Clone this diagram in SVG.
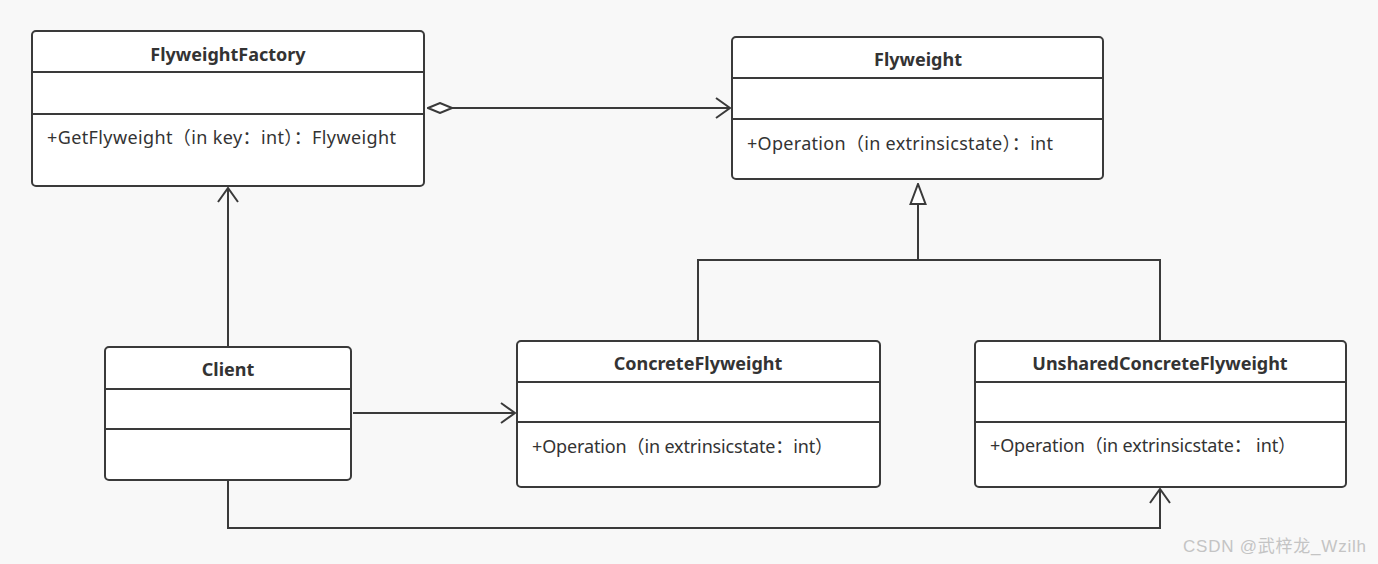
<svg xmlns="http://www.w3.org/2000/svg" width="1378" height="564" viewBox="0 0 1378 564">
<defs>
<style>
.box{fill:#ffffff;stroke:#3a3a3a;stroke-width:2}
.div{stroke:#3a3a3a;stroke-width:2}
.title{font-family:"Noto Sans","Noto Sans CJK SC",sans-serif;font-weight:bold;font-size:18px;fill:#333333;text-anchor:middle}
.op{font-family:"Noto Sans","Noto Sans CJK SC",sans-serif;font-size:18px;fill:#333333}
.ln{fill:none;stroke:#3a3a3a;stroke-width:2}
.wm{font-family:"Liberation Sans","Noto Sans CJK SC",sans-serif;font-size:17px;fill:#c4c4c4}
</style>
<marker id="open" viewBox="0 0 16 22" refX="15" refY="11" markerWidth="16" markerHeight="22" markerUnits="userSpaceOnUse" orient="auto">
<path d="M1,1 L15,11 L1,21" fill="none" stroke="#3a3a3a" stroke-width="2"/>
</marker>
<marker id="tri" viewBox="0 0 22 18" refX="21" refY="9" markerWidth="22" markerHeight="18" markerUnits="userSpaceOnUse" orient="auto">
<path d="M1,1.5 L21,9 L1,16.5 Z" fill="#ffffff" stroke="#3a3a3a" stroke-width="2"/>
</marker>
<marker id="dia" viewBox="0 0 26 12" refX="1" refY="6" markerWidth="26" markerHeight="12" markerUnits="userSpaceOnUse" orient="auto">
<path d="M1,6 L13,1 L25,6 L13,11 Z" fill="#ffffff" stroke="#3a3a3a" stroke-width="2"/>
</marker>
</defs>
<rect width="1378" height="564" fill="#f8f8f8"/>
<g id="connectors">
<line class="ln" x1="428" y1="108" x2="730" y2="108" marker-start="url(#dia)" marker-end="url(#open)"/>
<line class="ln" x1="228" y1="347" x2="228" y2="188" marker-end="url(#open)"/>
<line class="ln" x1="353" y1="413" x2="515" y2="413" marker-end="url(#open)"/>
<polyline class="ln" points="228,480 228,528 1160,528 1160,489" marker-end="url(#open)"/>
<polyline class="ln" points="698,341 698,260 1160,260 1160,341"/>
<line class="ln" x1="918" y1="260" x2="918" y2="184" marker-end="url(#tri)"/>
</g>
<g id="FlyweightFactory">
<rect class="box" x="32" y="31" width="392" height="155" rx="4"/>
<line class="div" x1="32" y1="72" x2="424" y2="72"/>
<line class="div" x1="32" y1="114" x2="424" y2="114"/>
<text class="title" x="228" y="61">FlyweightFactory</text>
<text class="op" x="47" y="144" textLength="349" lengthAdjust="spacing">+GetFlyweight（in key：int）：Flyweight</text>
</g>
<g id="Flyweight">
<rect class="box" x="732" y="37" width="371" height="142" rx="4"/>
<line class="div" x1="732" y1="78" x2="1103" y2="78"/>
<line class="div" x1="732" y1="119" x2="1103" y2="119"/>
<text class="title" x="918" y="66">Flyweight</text>
<text class="op" x="747" y="150" textLength="306" lengthAdjust="spacing">+Operation（in extrinsicstate）：int</text>
</g>
<g id="Client">
<rect class="box" x="105" y="347" width="246" height="133" rx="4"/>
<line class="div" x1="105" y1="389" x2="351" y2="389"/>
<line class="div" x1="105" y1="429" x2="351" y2="429"/>
<text class="title" x="228" y="376">Client</text>
</g>
<g id="ConcreteFlyweight">
<rect class="box" x="517" y="341" width="363" height="146" rx="4"/>
<line class="div" x1="517" y1="382" x2="880" y2="382"/>
<line class="div" x1="517" y1="422" x2="880" y2="422"/>
<text class="title" x="698" y="370">ConcreteFlyweight</text>
<text class="op" x="532" y="453" textLength="301" lengthAdjust="spacing">+Operation（in extrinsicstate：int）</text>
</g>
<g id="UnsharedConcreteFlyweight">
<rect class="box" x="975" y="341" width="371" height="146" rx="4"/>
<line class="div" x1="975" y1="382" x2="1346" y2="382"/>
<line class="div" x1="975" y1="422" x2="1346" y2="422"/>
<text class="title" x="1160" y="370">UnsharedConcreteFlyweight</text>
<text class="op" x="990" y="452" textLength="306" lengthAdjust="spacing">+Operation（in extrinsicstate： int）</text>
</g>
<text class="wm" x="1183" y="552" textLength="183" lengthAdjust="spacing">CSDN @武梓龙_Wzilh</text>
</svg>
